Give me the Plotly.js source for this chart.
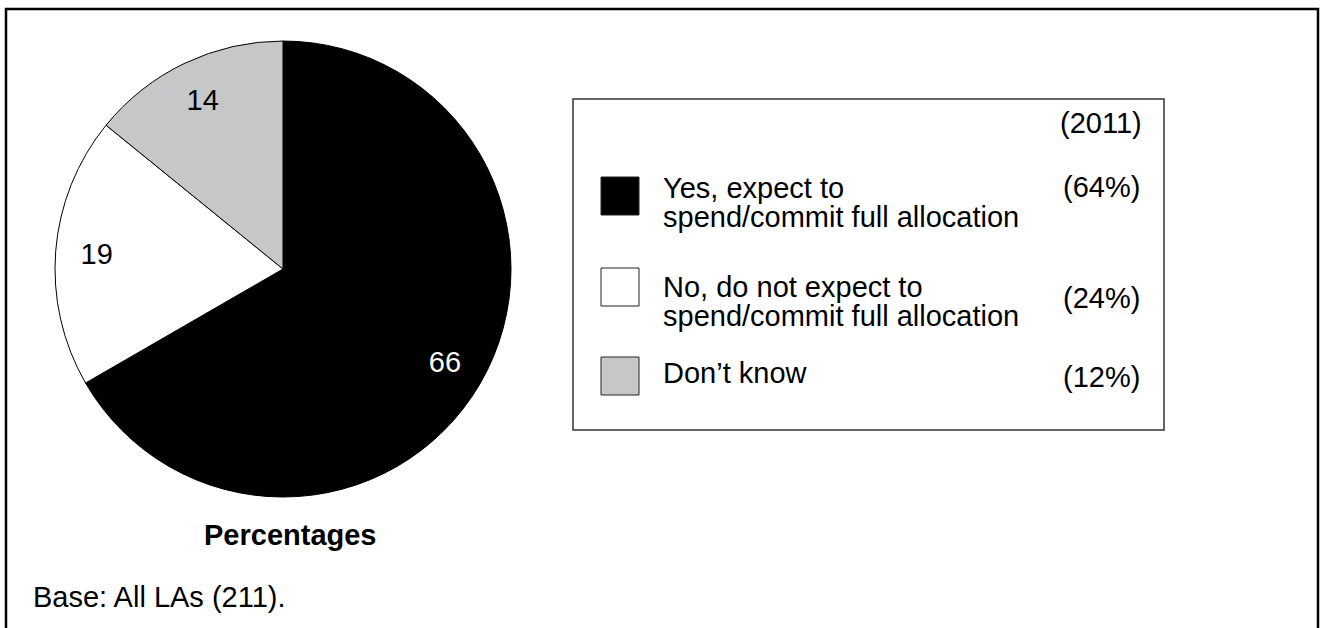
<!DOCTYPE html>
<html>
<head>
<meta charset="utf-8">
<script src="https://cdn.plot.ly/plotly-3.0.1.min.js"></script>
<style>
  html, body { margin: 0; padding: 0; background: #ffffff; }
  #chart { width: 1320px; height: 628px; }
</style>
</head>
<body>
<div id="chart"></div>
<script>
// ---- data ----
const categories = [
  "Yes, expect to<br>spend/commit full allocation",
  "No, do not expect to<br>spend/commit full allocation",
  "Don’t know"
];
const values = [66, 19, 14];
const values2011 = [64, 24, 12];
const comparisonHeader = "(2011)";
const pieTitle = "Percentages";
const baseNote = "Base: All LAs (211).";

// ---- styles ----
const colors = ["#000000", "#ffffff", "#c6c7c9"];
const textColors = ["#ffffff", "#000000", "#000000"];
const FONT = "Liberation Sans, Arial, Helvetica, sans-serif";
const FS = 29;
const W = 1320, H = 628;
const px = x => x / W;
const py = y => 1 - y / H;
const pieDomain = { x: [px(55), px(511)], y: [py(497), py(41)] };

// the slices
const pie = {
  type: "pie",
  values: values,
  labels: categories,
  sort: false,
  direction: "clockwise",
  rotation: 0,
  marker: { colors: colors, line: { color: "#000000", width: 1 } },
  textinfo: "none",
  hoverinfo: "none",
  domain: pieDomain,
  showlegend: false
};
// value labels placed towards the rim (transparent ring on top, same values)
const pieLabels = {
  type: "pie",
  values: values,
  labels: categories,
  sort: false,
  direction: "clockwise",
  rotation: 0,
  hole: 0.64,
  marker: { colors: ["rgba(0,0,0,0)", "rgba(0,0,0,0)", "rgba(0,0,0,0)"], line: { width: 0 } },
  textinfo: "value",
  textposition: "inside",
  insidetextorientation: "horizontal",
  insidetextfont: { family: FONT, size: FS, color: textColors },
  hoverinfo: "none",
  domain: pieDomain,
  showlegend: false
};

// legend layout (positions only)
const rowSquareTop = [177, 268, 357];
const rowLine1Y = [188, 287, 373];
const pctY = [187, 298, 377];
const sq = 38, sqX = 601, textX = 661, pctX = 1101, lineGap = 29;

const shapes = [
  { type: "rect", xref: "paper", yref: "paper", x0: px(6), x1: px(1318), y0: py(700), y1: py(9),
    line: { color: "#000000", width: 2.5 }, fillcolor: "rgba(0,0,0,0)" },
  { type: "rect", xref: "paper", yref: "paper", x0: px(573), x1: px(1164), y0: py(430), y1: py(99),
    line: { color: "#333333", width: 1.5 }, fillcolor: "rgba(0,0,0,0)" }
];
const annotations = [];
categories.forEach((c, i) => {
  shapes.push({ type: "rect", xref: "paper", yref: "paper",
    x0: px(sqX), x1: px(sqX + sq), y0: py(rowSquareTop[i] + sq), y1: py(rowSquareTop[i]),
    line: { color: "#222222", width: 1 }, fillcolor: colors[i] });
  c.split("<br>").forEach((line, j) => {
    annotations.push({ xref: "paper", yref: "paper", x: px(textX), y: py(rowLine1Y[i] + j * lineGap),
      xanchor: "left", yanchor: "middle", showarrow: false, text: line,
      font: { family: FONT, size: FS, color: "#000000" } });
  });
  annotations.push({ xref: "paper", yref: "paper", x: px(pctX), y: py(pctY[i]),
    xanchor: "center", yanchor: "middle", showarrow: false, text: "(" + values2011[i] + "%)",
    font: { family: FONT, size: FS, color: "#000000" } });
});
annotations.push({ xref: "paper", yref: "paper", x: px(pctX), y: py(123),
  xanchor: "center", yanchor: "middle", showarrow: false, text: comparisonHeader,
  font: { family: FONT, size: FS, color: "#000000" } });
annotations.push({ xref: "paper", yref: "paper", x: px(290), y: py(535),
  xanchor: "center", yanchor: "middle", showarrow: false, text: "<b>" + pieTitle + "</b>",
  font: { family: FONT, size: FS, color: "#000000" } });
annotations.push({ xref: "paper", yref: "paper", x: px(31), y: py(597),
  xanchor: "left", yanchor: "middle", showarrow: false, text: baseNote,
  font: { family: FONT, size: FS, color: "#000000" } });

const layout = {
  width: W, height: H,
  margin: { l: 0, r: 0, t: 0, b: 0 },
  paper_bgcolor: "#ffffff",
  plot_bgcolor: "#ffffff",
  showlegend: false,
  font: { family: FONT, size: FS, color: "#000000" },
  shapes: shapes,
  annotations: annotations
};

Plotly.newPlot("chart", [pie, pieLabels], layout, { staticPlot: true, displayModeBar: false });
</script>
</body>
</html>
